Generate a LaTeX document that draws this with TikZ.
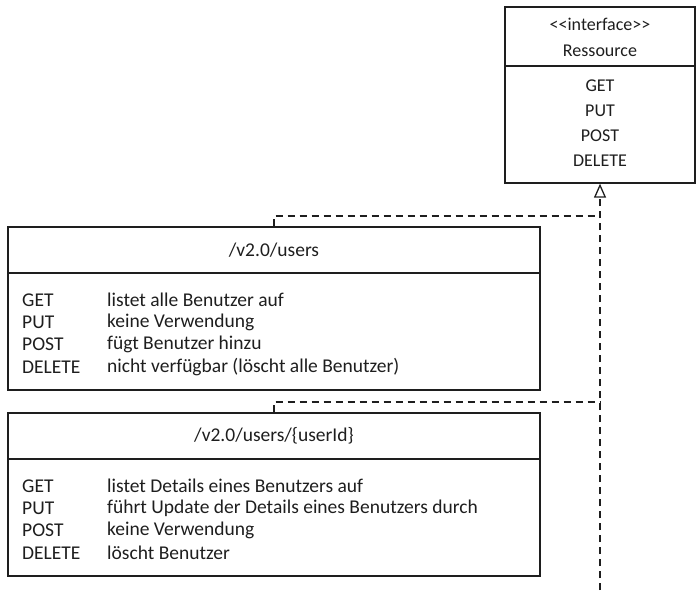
\documentclass[tikz,border=0pt]{standalone}
\usepackage{fontspec}
\setmainfont{Carlito}
\usetikzlibrary{arrows.meta}
\definecolor{inkgrey}{RGB}{30,30,30}

\begin{document}
\begin{tikzpicture}[x=1pt,y=-1pt,
  classbox/.style={draw=inkgrey,line width=1.3pt,inner sep=0pt},
  divline/.style={draw=inkgrey,line width=1.1pt},
  realize/.style={draw=inkgrey,line width=1.6pt,dash pattern=on 7pt off 5pt},
  label/.style={font=\fontsize{19.5}{22}\selectfont,color=inkgrey,inner sep=0pt},
  ilabel/.style={font=\fontsize{18}{22}\selectfont,color=inkgrey,inner sep=0pt},
  title/.style={font=\fontsize{19.5}{22}\selectfont,color=inkgrey,inner sep=0pt}]
  \useasboundingbox (0,0) rectangle (696,590);
  % interface
  \node[classbox,minimum width=190pt,minimum height=176pt] (res) at (600,95) {};
  \draw[divline] (res.west |- 0,66) -- (res.east |- 0,66);
  \node[ilabel] (res-st) at (600,24) {<\kern0pt<interface>\kern0pt>};
  \node[ilabel] (res-nm) at (600,51) {Ressource};
  \foreach \m/\yy in {GET/86,PUT/111,POST/136,DELETE/161}
    \node[ilabel] (res-\m) at (600,\yy) {\m};
  % /v2.0/users
  \node[classbox,minimum width=532pt,minimum height=163pt] (users) at (274,308.5) {};
  \draw[divline] (users.west |- 0,273) -- (users.east |- 0,273);
  \node[title] (users-t) at (274,250) {/v2.0/users};
  \foreach \m/\d [count=\i] in {GET/listet alle Benutzer auf,
      PUT/keine Verwendung,
      POST/fügt Benutzer hinzu,
      DELETE/nicht verfügbar (löscht alle Benutzer)}{
    \node[label,anchor=west] (users-m\i) at (22,{300+22.3*(\i-1)}) {\m};
    \node[label,anchor=west] (users-d\i) at (107,{300+22.3*(\i-1)}) {\d};
  }
  % /v2.0/users/{userId}
  \node[classbox,minimum width=532pt,minimum height=163pt] (userid) at (274,494.5) {};
  \draw[divline] (userid.west |- 0,459) -- (userid.east |- 0,459);
  \node[title] (userid-t) at (274,436) {/v2.0/users/\{userId\}};
  \foreach \m/\d [count=\i] in {GET/listet Details eines Benutzers auf,
      PUT/führt Update der Details eines Benutzers durch,
      POST/keine Verwendung,
      DELETE/löscht Benutzer}{
    \node[label,anchor=west] (userid-m\i) at (22,{486+22.3*(\i-1)}) {\m};
    \node[label,anchor=west] (userid-d\i) at (107,{486+22.3*(\i-1)}) {\d};
  }
  % realizations
  \coordinate (bend1) at (res.south |- 0,216);
  \coordinate (bend2) at (res.south |- 0,402);
  \coordinate (low) at (res.south |- 0,590);
  \draw[realize,-{Triangle[open,length=14pt,width=12pt,line width=1.3pt]}] (low) -- (res.south);
  \draw[realize] (users.north) |- (bend1);
  \draw[realize] (userid.north) |- (bend2);
\end{tikzpicture}
\end{document}
